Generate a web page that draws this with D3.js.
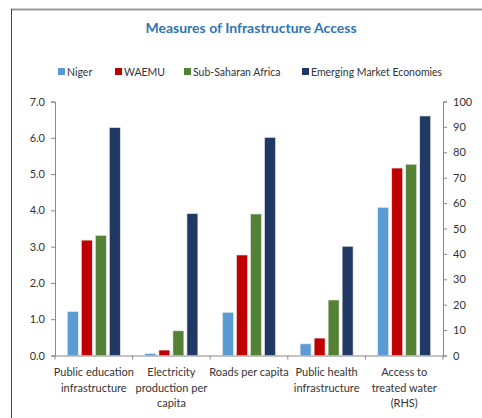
<!DOCTYPE html>
<html>
<head>
<meta charset="utf-8">
<script src="https://cdn.jsdelivr.net/npm/d3@7"></script>
<style>
  body { margin: 0; background: #fff; }
  text { font-family: Lato, "Open Sans", sans-serif; }
</style>
</head>
<body>
<svg id="chart"></svg>
<script>
const width = 482;
const height = 418;
const margin = { top: 101.5, right: 39, bottom: 62.5, left: 55 };

const categories = [
    ['Public education', 'infrastructure'],
    ['Electricity', 'production per', 'capita'],
    ['Roads per capita'],
    ['Public health', 'infrastructure'],
    ['Access to', 'treated water', '(RHS)']
];
const series = ['Niger', 'WAEMU', 'Sub-Saharan Africa', 'Emerging Market Economies'];
const colors = ['#5b9bd5', '#c00000', '#548235', '#203864'];

// values per series, one per category; last category is on the right axis
const niger = [1.21, 0.05, 1.19, 0.32, 58.3];
const waemu = [3.18, 0.15, 2.77, 0.48, 73.8];
const ssa = [3.31, 0.68, 3.90, 1.53, 75.3];
const eme = [6.28, 3.91, 6.01, 3.01, 94.3];
const rhsIndex = 4;

const leftTicks = [0, 1, 2, 3, 4, 5, 6, 7];
const rightTicks = [0, 10, 20, 30, 40, 50, 60, 70, 80, 90, 100];

const values = [niger, waemu, ssa, eme];

const svg = d3.select('#chart')
    .attr('width', width)
    .attr('height', height);

// frame
svg.append('line')
    .attr('x1', 11).attr('x2', width).attr('y1', 9.5).attr('y2', 9.5)
    .attr('stroke', '#999').attr('stroke-width', 2);
svg.append('line')
    .attr('x1', 11.5).attr('x2', 11.5).attr('y1', 9).attr('y2', height)
    .attr('stroke', '#444').attr('stroke-width', 1);

svg.append('text')
    .attr('x', 251)
    .attr('y', 33)
    .attr('text-anchor', 'middle')
    .style('font-size', '14px')
    .style('font-weight', 'bold')
    .style('fill', '#2e75b6')
    .text('Measures of Infrastructure Access');

const x0 = d3.scaleBand()
    .domain(d3.range(categories.length))
    .range([margin.left, width - margin.right]);
const x1 = d3.scaleBand()
    .domain(series)
    .range([0, x0.bandwidth()])
    .paddingInner(0.22)
    .paddingOuter(0.88);
const yLeft = d3.scaleLinear().domain([0, 7]).range([height - margin.bottom, margin.top]);
const yRight = d3.scaleLinear().domain([0, 100]).range([height - margin.bottom, margin.top]);

// bars
series.forEach((s, si) => {
    svg.append('g')
        .selectAll('rect')
        .data(values[si])
        .enter()
        .append('rect')
        .attr('x', (d, i) => x0(i) + x1(s))
        .attr('width', x1.bandwidth())
        .attr('y', (d, i) => (i === rhsIndex ? yRight : yLeft)(d))
        .attr('height', (d, i) => yLeft(0) - (i === rhsIndex ? yRight : yLeft)(d))
        .attr('fill', colors[si])
        .attr('stroke', '#e8e8e8')
        .attr('stroke-width', 0.6);
});

const axisColor = '#888';

const left = svg.append('g')
    .attr('transform', `translate(${margin.left}, 0)`)
    .call(d3.axisLeft(yLeft).tickValues(leftTicks).tickFormat(d3.format('.1f')).tickSize(4).tickPadding(6));
const right = svg.append('g')
    .attr('transform', `translate(${width - margin.right}, 0)`)
    .call(d3.axisRight(yRight).tickValues(rightTicks).tickSize(4).tickPadding(6));
const bottom = svg.append('g')
    .attr('transform', `translate(0, ${height - margin.bottom})`)
    .call(d3.axisBottom(x0).tickValues([]).tickSizeOuter(0));

[left, right, bottom].forEach(g => {
    g.select('.domain').attr('stroke', axisColor);
    g.selectAll('.tick line').attr('stroke', axisColor);
    g.selectAll('.tick text')
        .style('font-size', '11px')
        .style('fill', '#333')
        .style('font-family', 'Lato, sans-serif');
});

// category boundary ticks
bottom.selectAll('.sep')
    .data(d3.range(categories.length + 1))
    .enter()
    .append('line')
    .attr('x1', i => i < categories.length ? x0(i) : x0.range()[1])
    .attr('x2', i => i < categories.length ? x0(i) : x0.range()[1])
    .attr('y1', 0)
    .attr('y2', 4)
    .attr('stroke', axisColor);

// category labels
categories.forEach((lines, i) => {
    const t = svg.append('text')
        .attr('x', x0(i) + x0.bandwidth() / 2)
        .attr('y', 376)
        .attr('text-anchor', 'middle')
        .style('font-size', '11px')
        .style('fill', '#333');
    lines.forEach((l, j) => {
        t.append('tspan')
            .attr('x', x0(i) + x0.bandwidth() / 2)
            .attr('dy', j === 0 ? 0 : 15.5)
            .text(l);
    });
});

// legend
const legendX = [58, 115, 184, 302];
const legend = svg.append('g');
series.forEach((s, i) => {
    legend.append('rect')
        .attr('x', legendX[i])
        .attr('y', 68)
        .attr('width', 7)
        .attr('height', 7)
        .attr('fill', colors[i]);
    legend.append('text')
        .attr('x', legendX[i] + 9)
        .attr('y', 75.5)
        .style('font-size', '10.5px')
        .style('fill', '#333')
        .text(s);
});
</script>
</body>
</html>
